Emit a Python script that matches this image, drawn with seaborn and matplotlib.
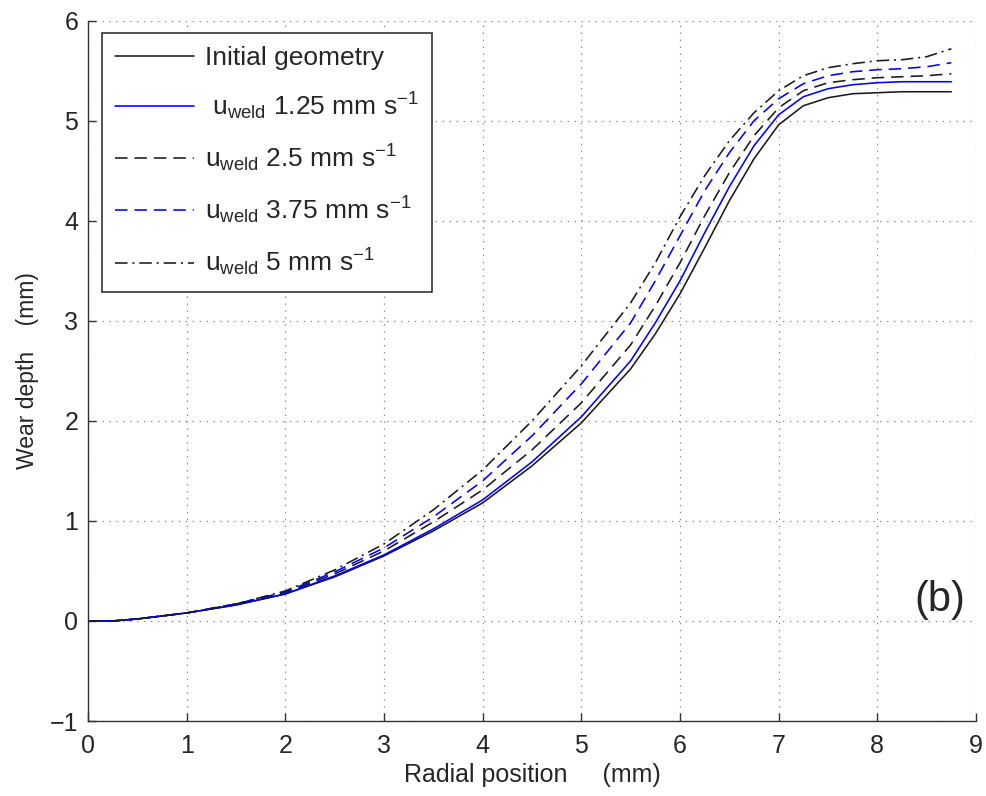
import pandas as pd
import matplotlib
matplotlib.use('Agg')
import matplotlib.pyplot as plt
import seaborn as sns

sns.set_style('ticks')
plt.rcParams['font.family'] = ['Liberation Sans', 'DejaVu Sans']
plt.rcParams['mathtext.fontset'] = 'custom'
plt.rcParams['mathtext.rm'] = 'Liberation Sans'
plt.rcParams['lines.scale_dashes'] = False

# radial position (mm)
x = [0, 0.25, 0.5, 1, 1.5, 2, 2.5, 3, 3.5, 4, 4.5, 5, 5.5, 5.75, 6, 6.25, 6.5,
     6.75, 7, 7.25, 7.5, 7.75, 8, 8.25, 8.5, 8.75]

# wear depth (mm)
initial = [0, 0, 0.02, 0.08, 0.16, 0.27, 0.44, 0.65, 0.90, 1.18, 1.55, 1.98, 2.52, 2.87,
           3.27, 3.73, 4.20, 4.62, 4.96, 5.15, 5.23, 5.27, 5.28, 5.29, 5.29, 5.29]
u125 = [0, 0, 0.02, 0.08, 0.16, 0.27, 0.45, 0.66, 0.92, 1.21, 1.59, 2.04, 2.60, 2.98,
        3.40, 3.88, 4.34, 4.75, 5.06, 5.24, 5.32, 5.36, 5.38, 5.39, 5.39, 5.39]
u25 = [0, 0, 0.02, 0.08, 0.17, 0.28, 0.47, 0.70, 0.99, 1.31, 1.71, 2.18, 2.76, 3.15,
       3.58, 4.05, 4.48, 4.85, 5.13, 5.30, 5.38, 5.41, 5.43, 5.44, 5.45, 5.47]
u375 = [0, 0, 0.02, 0.08, 0.17, 0.29, 0.49, 0.73, 1.04, 1.40, 1.85, 2.37, 2.98, 3.40,
        3.85, 4.30, 4.68, 5.00, 5.22, 5.37, 5.45, 5.49, 5.51, 5.52, 5.54, 5.58]
u5 = [0, 0, 0.02, 0.08, 0.17, 0.30, 0.51, 0.77, 1.11, 1.51, 2.00, 2.55, 3.18, 3.58,
      4.04, 4.45, 4.80, 5.08, 5.30, 5.45, 5.53, 5.57, 5.60, 5.61, 5.64, 5.72]

labels = ['Initial geometry',
          r' $\mathregular{u_{weld}}$ 1.25 mm s$^{\mathregular{-1}}$',
          r'$\mathregular{u_{weld}}$ 2.5 mm s$^{\mathregular{-1}}$',
          r'$\mathregular{u_{weld}}$ 3.75 mm s$^{\mathregular{-1}}$',
          r'$\mathregular{u_{weld}}$ 5 mm s$^{\mathregular{-1}}$']
series = [initial, u125, u25, u375, u5]
colors = ['#1a1a1a', '#0000ff', '#1a1a1a', '#0000ff', '#1a1a1a']
dashes = [None, None, (9, 5), (9, 5), (9, 3.5, 1.5, 3.5)]

fig = plt.figure(figsize=(9.86, 7.96), dpi=100)
ax = fig.add_axes([0.0892, 0.0942, 0.9007, 0.8798])

for ys, lab, c, d in zip(series, labels, colors, dashes):
    kw = {} if d is None else {'dashes': d}
    sns.lineplot(x=x, y=ys, color=c, linewidth=1.15, label=lab, ax=ax, **kw)

ax.set_xlim(0, 9)
ax.set_ylim(-1, 6)
ax.set_xticks(range(0, 10))
ax.set_yticks(range(-1, 7))
ax.grid(True, linestyle=(0, (1, 4)), color='#888888', linewidth=0.9)
ax.tick_params(direction='in', length=6, labelsize=18, width=1, color='#333333')
ax.tick_params(axis='x', pad=9)
ax.tick_params(axis='y', pad=7)
for s in ['top', 'right']:
    ax.spines[s].set_visible(False)
for s in ['left', 'bottom']:
    ax.spines[s].set_color('#333333')
    ax.spines[s].set_linewidth(1)

ax.set_xlabel('Radial position     (mm)', fontsize=18, labelpad=4)
ax.set_ylabel('Wear depth    (mm)', fontsize=16.5, labelpad=8)

leg = ax.legend(loc='upper left', bbox_to_anchor=(0.0158, 0.983), fontsize=19,
                frameon=True, fancybox=False, handlelength=3.0, labelspacing=0.76,
                borderpad=0.5, borderaxespad=0, handletextpad=0.42)
leg.get_frame().set_edgecolor('#333333')
leg.get_frame().set_linewidth(1.2)
leg.get_frame().set_alpha(1)

ax.text(0.959, 0.173, '(b)', transform=ax.transAxes, fontsize=30,
        ha='center', va='center')

plt.savefig('out.png', dpi=100)
